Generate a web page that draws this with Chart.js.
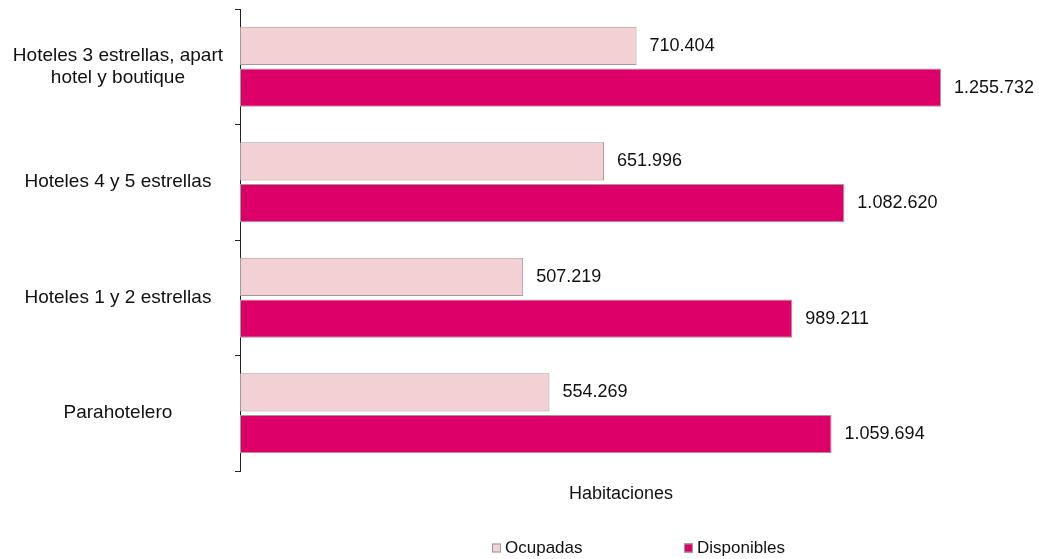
<!DOCTYPE html>
<html>
<head>
<meta charset="utf-8">
<script src="https://cdn.jsdelivr.net/npm/chart.js@4"></script>
<style>
  html, body { margin: 0; padding: 0; background: #fff; }
  #wrap { width: 1039px; height: 559px; }
</style>
</head>
<body>
<div id="wrap"><canvas id="chart" width="1039" height="559"></canvas></div>
<script>
// === Dati ===
const categorias = [
  ["Hoteles 3 estrellas, apart", "hotel y boutique"],
  "Hoteles 4 y 5 estrellas",
  "Hoteles 1 y 2 estrellas",
  "Parahotelero"
];
const ocupadas = [710404, 651996, 507219, 554269];
const disponibles = [1255732, 1082620, 989211, 1059694];
const ejeMax = 1365000;

const FONT = "'Liberation Sans', Arial, sans-serif";

// separatore migliaia con punto
function fmt(v) {
  return String(v).replace(/\B(?=(\d{3})+(?!\d))/g, ".");
}

// etichette valori a destra delle barre
const valueLabels = {
  id: "valueLabels",
  afterDatasetsDraw(chart) {
    const ctx = chart.ctx;
    ctx.save();
    ctx.font = "18px " + FONT;
    ctx.fillStyle = "#111";
    ctx.textBaseline = "middle";
    ctx.textAlign = "left";
    chart.data.datasets.forEach((ds, i) => {
      chart.getDatasetMeta(i).data.forEach((bar, j) => {
        ctx.fillText(fmt(ds.data[j]), bar.x + 13, bar.y);
      });
    });
    ctx.restore();
  }
};

// legenda disegnata a mano (posizione come nell'originale)
const customLegend = {
  id: "customLegend",
  afterDraw(chart) {
    const ctx = chart.ctx;
    const y = 548;
    const starts = [492, 684];
    ctx.save();
    ctx.font = "17px " + FONT;
    ctx.textBaseline = "middle";
    chart.data.datasets.forEach((ds, i) => {
      const x = starts[i];
      ctx.fillStyle = ds.backgroundColor;
      ctx.fillRect(x, y - 4.5, 9, 9);
      ctx.strokeStyle = "#9a9a9a";
      ctx.lineWidth = 1;
      ctx.strokeRect(x + 0.5, y - 4, 8, 8);
      ctx.fillStyle = "#111";
      ctx.fillText(ds.label, x + 13, y);
    });
    ctx.restore();
  }
};

const chart = new Chart(document.getElementById("chart"), {
  type: "bar",
  data: {
    labels: categorias,
    datasets: [
      {
        label: "Ocupadas",
        data: ocupadas,
        backgroundColor: "#F2D0D4",
        borderColor: "#A09A9C",
        borderWidth: 1,
        borderSkipped: false
      },
      {
        label: "Disponibles",
        data: disponibles,
        backgroundColor: "#DC0068",
        borderColor: "#A09A9C",
        borderWidth: 1,
        borderSkipped: false
      }
    ]
  },
  options: {
    indexAxis: "y",
    responsive: false,
    animation: false,
    categoryPercentage: 0.725,
    barPercentage: 0.915,
    layout: { padding: { top: 9, right: 37, bottom: 0, left: 0 } },
    plugins: {
      legend: { display: false },
      tooltip: { enabled: false }
    },
    scales: {
      x: {
        min: 0,
        max: ejeMax,
        ticks: { display: false },
        grid: { display: false },
        border: { display: false },
        title: {
          display: true,
          text: "Habitaciones",
          color: "#111",
          font: { family: FONT, size: 18 },
          padding: { top: 0, bottom: 54 }
        },
        afterFit(scale) { scale.height = 88; }
      },
      y: {
        ticks: {
          color: "#111",
          font: { family: FONT, size: 19 },
          crossAlign: "center",
          padding: 12
        },
        grid: {
          drawOnChartArea: false,
          drawTicks: true,
          tickLength: 5,
          color: "#222",
          offset: true
        },
        border: { display: true, color: "#222", width: 1 },
        afterFit(scale) {
          scale.width = 240;
          scale.paddingTop = 0;
          scale.paddingBottom = 0;
        }
      }
    }
  },
  plugins: [valueLabels, customLegend]
});
</script>
</body>
</html>
